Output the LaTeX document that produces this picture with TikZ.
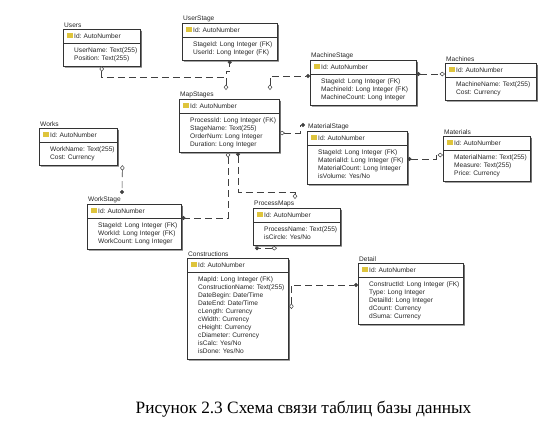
\documentclass[tikz,border=0pt]{standalone}
\usepackage{fontspec}
\usepackage{tikz}
\usetikzlibrary{shapes.multipart,shadows,arrows.meta,calc}
\newfontfamily\tabfamily{Liberation Sans}
\newfontfamily\capfamily{Liberation Serif}
\newcommand{\tabfont}{\tabfamily\fontsize{6.6}{8}\selectfont\frenchspacing}
\definecolor{keyylw}{RGB}{222,196,60}
\newcommand{\keyicon}{\textcolor{keyylw}{\rule[-0.3pt]{5.5pt}{5.5pt}}}
\newcommand{\keyid}{\strut\keyicon\hspace{1.5pt}Id: AutoNumber}
\newcommand{\flds}[1]{\begin{tabular}{@{\hspace{7pt}}l@{}}#1\end{tabular}}
\tikzset{
	tbl/.style={rectangle split, rectangle split parts=2, draw=black!80, fill=white, text=black!85,
		font=\tabfont, align=left, inner xsep=4pt, inner ysep=3pt, anchor=north west,
		drop shadow={shadow xshift=1.6pt, shadow yshift=-1.6pt, fill=black!55, opacity=1}}, % one table
	lbl/.style={font=\tabfont, text=black!85, anchor=south west, inner sep=1pt}, % table name above the box
	rel/.style={draw=black!75, line width=0.6pt, dash pattern=on 7pt off 4pt}, % relationship line
	onemany/.style={rel, {Diamond[fill=white,length=5.5pt,width=4.5pt,line width=0.5pt]}-{Circle[length=4pt]}},
	manyone/.style={rel, {Circle[length=4pt]}-{Diamond[fill=white,length=5.5pt,width=4.5pt,line width=0.5pt]}},
}
\begin{document}
\begin{tikzpicture}[x=1pt,y=-1pt]
	\useasboundingbox (0,0) rectangle (555,437);
	% tables
	\node[tbl, text width=69pt, label={[lbl]north west:Users}] (users) at (63,29)
		{\keyid \nodepart{two}\flds{UserName: Text(255)\\Position: Text(255)}};
	\node[tbl, text width=87pt, label={[lbl]north west:UserStage}] (ustage) at (182,23)
		{\keyid \nodepart{two}\flds{StageId: Long Integer (FK)\\UserId: Long Integer (FK)}};
	\node[tbl, text width=98pt, label={[lbl]north west:MachineStage}] (mstage) at (310,60)
		{\keyid \nodepart{two}\flds{StageId: Long Integer (FK)\\MachineId: Long Integer (FK)\\MachineCount: Long Integer}};
	\node[tbl, text width=83pt, label={[lbl]north west:Machines}] (machines) at (445,63)
		{\keyid \nodepart{two}\flds{MachineName: Text(255)\\Cost: Currency}};
	\node[tbl, text width=70pt, label={[lbl]north west:Works}] (works) at (39,128)
		{\keyid \nodepart{two}\flds{WorkName: Text(255)\\Cost: Currency}};
	\node[tbl, text width=86pt, label={[lbl]north west:WorkStage}] (wstage) at (87,204)
		{\keyid \nodepart{two}\flds{StageId: Long Integer (FK)\\WorkId: Long Integer (FK)\\WorkCount: Long Integer}};
	\node[tbl, text width=92pt, label={[lbl]north west:MapStages}] (mapst) at (179,99)
		{\keyid \nodepart{two}\flds{ProcessId: Long Integer (FK)\\StageName: Text(255)\\OrderNum: Long Integer\\Duration: Long Integer}};
	\node[tbl, text width=92pt, label={[lbl]north west:MaterialStage}] (matst) at (307,131)
		{\keyid \nodepart{two}\flds{StageId: Long Integer (FK)\\MaterialId: Long Integer (FK)\\MaterialCount: Long Integer\\isVolume: Yes/No}};
	\node[tbl, text width=79pt, label={[lbl]north west:Materials}] (materials) at (443,136)
		{\keyid \nodepart{two}\flds{MaterialName: Text(255)\\Measure: Text(255)\\Price: Currency}};
	\node[tbl, text width=79pt, label={[lbl]north west:ProcessMaps}] (procm) at (253,208)
		{\keyid \nodepart{two}\flds{ProcessName: Text(255)\\isCircle: Yes/No}};
	\node[tbl, text width=93pt, label={[lbl]north west:Constructions}] (constr) at (187,258)
		{\keyid \nodepart{two}\flds{MapId: Long Integer (FK)\\ConstructionName: Text(255)\\DateBegin: Date/Time\\DateEnd: Date/Time\\cLength: Currency\\cWidth: Currency\\cHeight: Currency\\cDiameter: Currency\\isCalc: Yes/No\\isDone: Yes/No}};
	\node[tbl, text width=97pt, label={[lbl]north west:Detail}] (detail) at (358,263)
		{\keyid \nodepart{two}\flds{ConstructId: Long Integer (FK)\\Type: Long Integer\\DetailId: Long Integer\\dCount: Currency\\dSuma: Currency}};
	% relationships
	\draw[rel, {Diamond[fill=white,length=5.5pt,width=4.5pt,line width=0.5pt]}-] (users.south) |- (226,77);
	\draw[onemany] ($(mapst.north west)+(47,-9)$) -- (226,71) -| (ustage.south);
	\draw[onemany] ($(mapst.north west)+(91,-9)$) |- ($(mstage.north west)+(0,16)$);
	\draw[manyone] ($(mstage.north east)+(0,14)$) -- ($(machines.north west)+(0,11)$);
	\draw[onemany] ($(works.south east)+(5,0)$) -- ($(wstage.north west)+(35,-10)$);
	\draw[onemany] ($(mapst.south west)+(49,0)$) |- ($(wstage.north east)+(0,14)$);
	\draw[manyone] ($(mapst.south west)+(59,0)$) -- ++(0,40) -| ($(procm.north west)+(42,-9)$);
	\draw[onemany] ($(mapst.north east)+(0,34)$) -- ++(21,0) |- ($(matst.north west)+(-2,-6)$);
	\draw[manyone] ($(matst.north east)+(0,28)$) -- ++(29,0) |- ($(materials.north west)+(0,19)$);
	\draw[onemany] ($(procm.south west)+(24,3)$) -- ($(procm.south west)+(2,3)$);
	\draw[onemany] ($(constr.north east)+(3,51)$) |- ($(detail.north west)+(0,22)$);
	% caption
	\node[font=\capfamily\fontsize{17.3}{21}\selectfont] (cap) at (303.5,409) {Рисунок 2.3 Схема связи таблиц базы данных};
\end{tikzpicture}
\end{document}
